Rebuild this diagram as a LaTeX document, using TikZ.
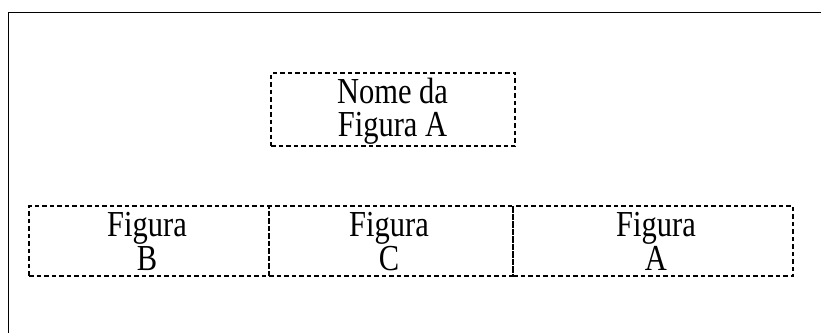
\documentclass[tikz,border=0pt]{standalone}
\usepackage{fontspec}
\setmainfont{Liberation Serif}
\newcommand{\boxtext}[2]{\scalebox{1}[1.2]{\fontsize{30.5}{25.5}\selectfont\begin{tabular}{@{}c@{}}#1\\#2\end{tabular}}}
\begin{document}
\begin{tikzpicture}[x=1pt,y=-1pt,
  figbox/.style={draw,dashed,dash pattern=on 4.5pt off 3pt,line width=1.1pt,inner sep=0pt},
  figtext/.style={inner sep=0pt,anchor=center}]
\useasboundingbox (0,0) rectangle (821,333);
% page frame: only the top and left edges fall inside the view
\coordinate (frameTR) at (821,12.5);
\coordinate (frameTL) at (8.5,12.5);
\coordinate (frameBL) at (8.5,333);
\draw[line width=1.8pt] (frameTR) -- (frameTL) -- (frameBL);
% title box
\node[figbox,minimum width=244pt,minimum height=73pt] (title) at (393,109.5) {};
\node[figtext] (titletxt) at (392.5,112) {\boxtext{Nome da}{Figura A}};
% row of three figure cells
\node[figbox,minimum width=240pt,minimum height=70pt] (cellB) at (149,241) {};
\node[figbox,minimum width=244pt,minimum height=70pt] (cellC) at (391,241) {};
\node[figbox,minimum width=280pt,minimum height=70pt] (cellA) at (653,241) {};
\node[figtext] (txtB) at (147,246) {\boxtext{Figura}{B}};
\node[figtext] (txtC) at (389,246) {\boxtext{Figura}{C}};
\node[figtext] (txtA) at (656,246) {\boxtext{Figura}{A}};
\end{tikzpicture}
\end{document}
